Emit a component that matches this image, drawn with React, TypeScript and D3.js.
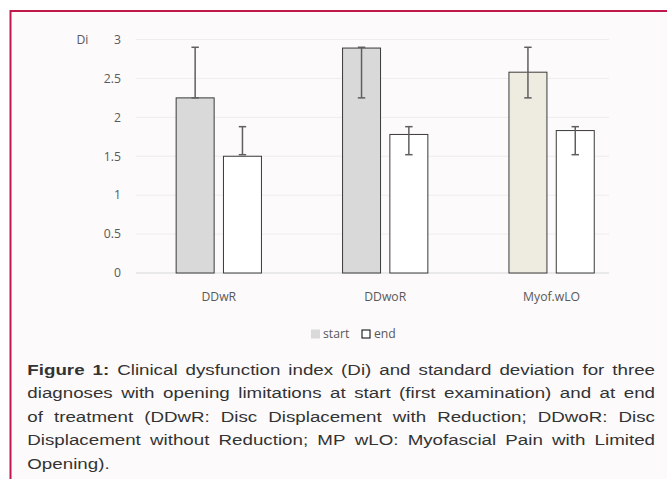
import React, { useRef, useEffect } from "react";
import * as d3 from "d3";

const categories = ["DDwR", "DDwoR", "Myof.wLO"];
const seriesNames = ["start", "end"];
const startValues = [2.25, 2.89, 2.58];
const endValues = [1.5, 1.78, 1.83];
const startErrHigh = [2.9, 2.9, 2.9];
const startErrLow = [2.25, 2.25, 2.25];
const endErrHigh = [1.88, 1.88, 1.88];
const endErrLow = [1.52, 1.52, 1.52];
const startFills = ["#d9d9d9", "#d9d9d9", "#eeece1"];
const yTicks = [0, 0.5, 1, 1.5, 2, 2.5, 3];

const captionLines = [
  "Figure 1: Clinical dysfunction index (Di) and standard deviation for three",
  "diagnoses with opening limitations at start (first examination) and at end",
  "of treatment (DDwR: Disc Displacement with Reduction; DDwoR: Disc",
  "Displacement without Reduction; MP wLO: Myofascial Pain with Limited",
  "Opening).",
];

const W = 667;
const H = 479;

const App = () => {
  const capRef = useRef<SVGGElement>(null);

  const x0 = d3.scaleBand().domain(categories).range([135.6, 634.8]);
  const groupW = 85.3;
  const x1 = d3.scaleBand().domain(seriesNames).range([0, groupW]).paddingInner(0.197);
  const y = d3.scaleLinear().domain([0, 3]).range([273, 39.5]);
  const gridRight = 609;

  const bars = categories.flatMap((c, i) => [
    { c, s: "start", v: startValues[i], hi: startErrHigh[i], lo: startErrLow[i], fill: startFills[i] },
    { c, s: "end", v: endValues[i], hi: endErrHigh[i], lo: endErrLow[i], fill: "#ffffff" },
  ]);
  const barX = (c: string, s: string) => (x0(c) as number) + (x0.bandwidth() - groupW) / 2 + (x1(s) as number);

  useEffect(() => {
    const g = d3.select(capRef.current);
    g.selectAll("*").remove();
    const sx = 1.21;
    const left = 27.3;
    const lineW = (655 - left) / sx;
    const baselines = [374.5, 398, 421.5, 445, 468.5];

    captionLines.forEach((line, li) => {
      const lg = g
        .append("g")
        .attr("transform", `translate(${left},${baselines[li]}) scale(${sx},1)`);
      const words = line.split(" ");
      const nodes = words.map((w, wi) =>
        lg
          .append("text")
          .attr("font-weight", li === 0 && wi < 2 ? "bold" : "normal")
          .text(w)
      );
      const widths = nodes.map((n) => (n.node() as SVGTextElement).getComputedTextLength());
      const total = d3.sum(widths);
      const last = li === captionLines.length - 1;
      const gap = last || words.length < 2 ? 4.3 : (lineW - total) / (words.length - 1);
      let cx = 0;
      nodes.forEach((n, i) => {
        n.attr("x", cx);
        cx += widths[i] + gap;
      });
    });
  }, []);

  return (
    <svg
      width={W}
      height={H}
      style={{ position: "absolute", left: 0, top: 0 }}
    >
      <rect x={0} y={0} width={W} height={H} fill="#ffffff" />
      <rect x={10} y={11} width={W - 10} height={H - 11} fill="#fcfafb" />
      <path d={`M${W},11 H10.5 V${H}`} fill="none" stroke="#c0184a" strokeWidth={2} />

      <g fontFamily="'Open Sans', sans-serif" fontSize={12.2} fill="#595959">
        {yTicks.map((t) => (
          <g key={t}>
            {t > 0 && (
              <line x1={136} x2={gridRight} y1={y(t)} y2={y(t)} stroke="#efeced" strokeWidth={1} />
            )}
            <text x={121} y={y(t)} dy="0.35em" textAnchor="end">
              {d3.format("")(t)}
            </text>
          </g>
        ))}
        <text x={76.5} y={y(3)} dy="0.35em">Di</text>
        <line x1={136} x2={gridRight} y1={y(0)} y2={y(0)} stroke="#d9d9d9" strokeWidth={1} />

        {bars.map((b) => (
          <rect
            key={b.c + b.s}
            x={barX(b.c, b.s)}
            y={y(b.v)}
            width={x1.bandwidth()}
            height={y(0) - y(b.v)}
            fill={b.fill}
            stroke="#3a3a3a"
            strokeWidth={1}
          />
        ))}
        {bars.map((b) => {
          const cx = barX(b.c, b.s) + x1.bandwidth() / 2;
          return (
            <g key={"e" + b.c + b.s} stroke="#5f5f5f" strokeWidth={1.5}>
              <line x1={cx} x2={cx} y1={y(b.hi)} y2={y(b.lo)} />
              <line x1={cx - 3.7} x2={cx + 3.7} y1={y(b.hi)} y2={y(b.hi)} />
              <line x1={cx - 3.7} x2={cx + 3.7} y1={y(b.lo)} y2={y(b.lo)} />
            </g>
          );
        })}

        {categories.map((c) => (
          <text key={c} x={(x0(c) as number) + x0.bandwidth() / 2} y={296.5} dy="0.35em" textAnchor="middle">
            {c}
          </text>
        ))}

        <rect x={311} y={329.5} width={9} height={9} fill="#d9d9d9" />
        <text x={323} y={334} dy="0.35em">start</text>
        <rect x={362} y={330} width={8} height={8} fill="#ffffff" stroke="#000000" strokeWidth={1} />
        <text x={374} y={334} dy="0.35em">end</text>
      </g>

      <g ref={capRef} fontFamily="'Liberation Sans', Arial, sans-serif" fontSize={15.5} fill="#333333" />
    </svg>
  );
};

export default App;
